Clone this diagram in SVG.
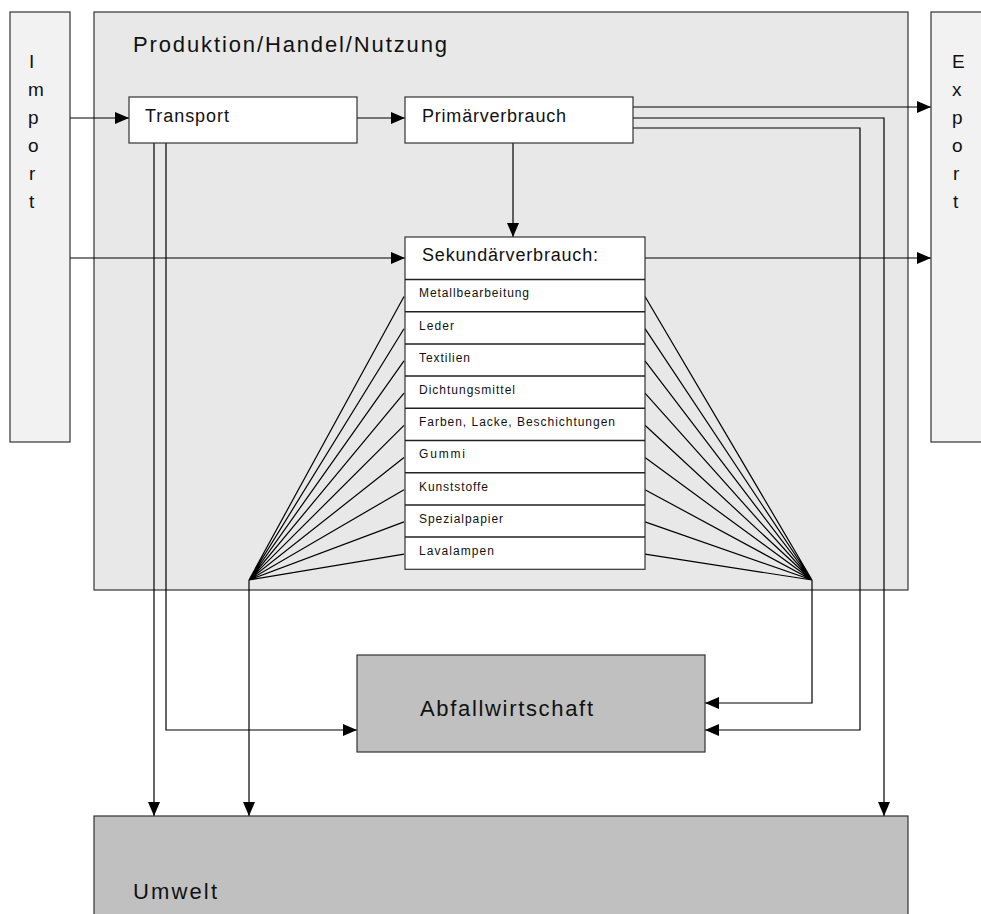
<svg xmlns="http://www.w3.org/2000/svg" width="981" height="914" viewBox="0 0 981 914">
<style>
.box{stroke:#333;stroke-width:1.2}
.white{fill:#fff}
.light{fill:#f2f2f2}
.main{fill:#e8e8e8}
.dark{fill:#c0c0c0}
.t{font-family:"Liberation Sans",Arial,sans-serif;fill:#111}
.big{font-size:22px}
.mid{font-size:18px}
.let{font-size:19px}
.small{font-size:12px}
.ln{fill:none;stroke:#000;stroke-width:1.2}
.div{stroke:#222;stroke-width:1.5}
</style>
<defs>
<marker id="ah" markerUnits="userSpaceOnUse" markerWidth="14" markerHeight="12" refX="14" refY="6" orient="auto">
<path d="M0,0 L14,6 L0,12 z" fill="#000"/>
</marker>
</defs>
<rect width="981" height="914" fill="#fff"/>
<g id="produktion">
<rect class="box main" x="94" y="12" width="814" height="578"/>
<text class="t big" x="133" y="52" textLength="314" lengthAdjust="spacing">Produktion/Handel/Nutzung</text>
</g>
<g id="connectors">
<path class="ln" d="M70,118 H129" marker-end="url(#ah)"/>
<path class="ln" d="M357,118 H405" marker-end="url(#ah)"/>
<path class="ln" d="M633,107 H931" marker-end="url(#ah)"/>
<path class="ln" d="M633,118 H884 V816" marker-end="url(#ah)"/>
<path class="ln" d="M633,128 H860 V730 H705" marker-end="url(#ah)"/>
<path class="ln" d="M513,143 V237" marker-end="url(#ah)"/>
<path class="ln" d="M70,258 H405" marker-end="url(#ah)"/>
<path class="ln" d="M645,258 H931" marker-end="url(#ah)"/>
<path class="ln" d="M154,143 V816" marker-end="url(#ah)"/>
<path class="ln" d="M166,143 V730 H357" marker-end="url(#ah)"/>
<path class="ln" d="M404,296.5 L249,580 M404,328.7 L249,580 M404,360.9 L249,580 M404,393.1 L249,580 M404,425.3 L249,580 M404,457.5 L249,580 M404,489.7 L249,580 M404,521.9 L249,580 M404,554.1 L249,580"/>
<path class="ln" d="M249,580 V816" marker-end="url(#ah)"/>
<path class="ln" d="M645,296.5 L812,580 M645,328.7 L812,580 M645,360.9 L812,580 M645,393.1 L812,580 M645,425.3 L812,580 M645,457.5 L812,580 M645,489.7 L812,580 M645,521.9 L812,580 M645,554.1 L812,580"/>
<path class="ln" d="M812,580 V703 H705" marker-end="url(#ah)"/>
</g>
<g id="import">
<rect class="box light" x="10" y="12" width="60" height="430"/>
<text class="t let" x="29" y="68">I</text>
<text class="t let" x="28" y="96">m</text>
<text class="t let" x="28" y="124">p</text>
<text class="t let" x="28" y="152">o</text>
<text class="t let" x="29" y="180">r</text>
<text class="t let" x="29" y="208">t</text>
</g>
<g id="export">
<rect class="box light" x="931" y="12" width="60" height="430"/>
<text class="t let" x="952" y="68">E</text>
<text class="t let" x="952" y="96">x</text>
<text class="t let" x="952" y="124">p</text>
<text class="t let" x="952" y="152">o</text>
<text class="t let" x="953" y="180">r</text>
<text class="t let" x="953" y="208">t</text>
</g>
<g id="transport">
<rect class="box white" x="129" y="97" width="228" height="46"/>
<text class="t mid" x="145" y="122" textLength="84" lengthAdjust="spacing">Transport</text>
</g>
<g id="primaerverbrauch">
<rect class="box white" x="405" y="97" width="228" height="46"/>
<text class="t mid" x="422" y="122" textLength="144" lengthAdjust="spacing">Primärverbrauch</text>
</g>
<g id="sekundaerverbrauch">
<rect class="box white" x="405" y="237" width="240" height="332.3"/>
<text class="t mid" x="422" y="261" textLength="176" lengthAdjust="spacing">Sekundärverbrauch:</text>
<path class="div" d="M405,279.5 H645 M405,311.7 H645 M405,343.9 H645 M405,376.1 H645 M405,408.3 H645 M405,440.5 H645 M405,472.7 H645 M405,504.9 H645 M405,537.1 H645"/>
<text class="t small" x="419" y="297.3" textLength="110" lengthAdjust="spacing">Metallbearbeitung</text>
<text class="t small" x="419" y="329.5" textLength="35" lengthAdjust="spacing">Leder</text>
<text class="t small" x="419" y="361.7" textLength="51" lengthAdjust="spacing">Textilien</text>
<text class="t small" x="419" y="393.9" textLength="96" lengthAdjust="spacing">Dichtungsmittel</text>
<text class="t small" x="419" y="426.1" textLength="196" lengthAdjust="spacing">Farben, Lacke, Beschichtungen</text>
<text class="t small" x="419" y="458.3" textLength="46" lengthAdjust="spacing">Gummi</text>
<text class="t small" x="419" y="490.5" textLength="69" lengthAdjust="spacing">Kunststoffe</text>
<text class="t small" x="419" y="522.7" textLength="84" lengthAdjust="spacing">Spezialpapier</text>
<text class="t small" x="419" y="554.9" textLength="75" lengthAdjust="spacing">Lavalampen</text>
</g>
<g id="abfallwirtschaft">
<rect class="box dark" x="357" y="655" width="348" height="97"/>
<text class="t big" x="420" y="716" textLength="173" lengthAdjust="spacing">Abfallwirtschaft</text>
</g>
<g id="umwelt">
<rect class="box dark" x="94" y="816" width="814" height="110"/>
<text class="t big" x="133" y="899" textLength="84" lengthAdjust="spacing">Umwelt</text>
</g>
</svg>
